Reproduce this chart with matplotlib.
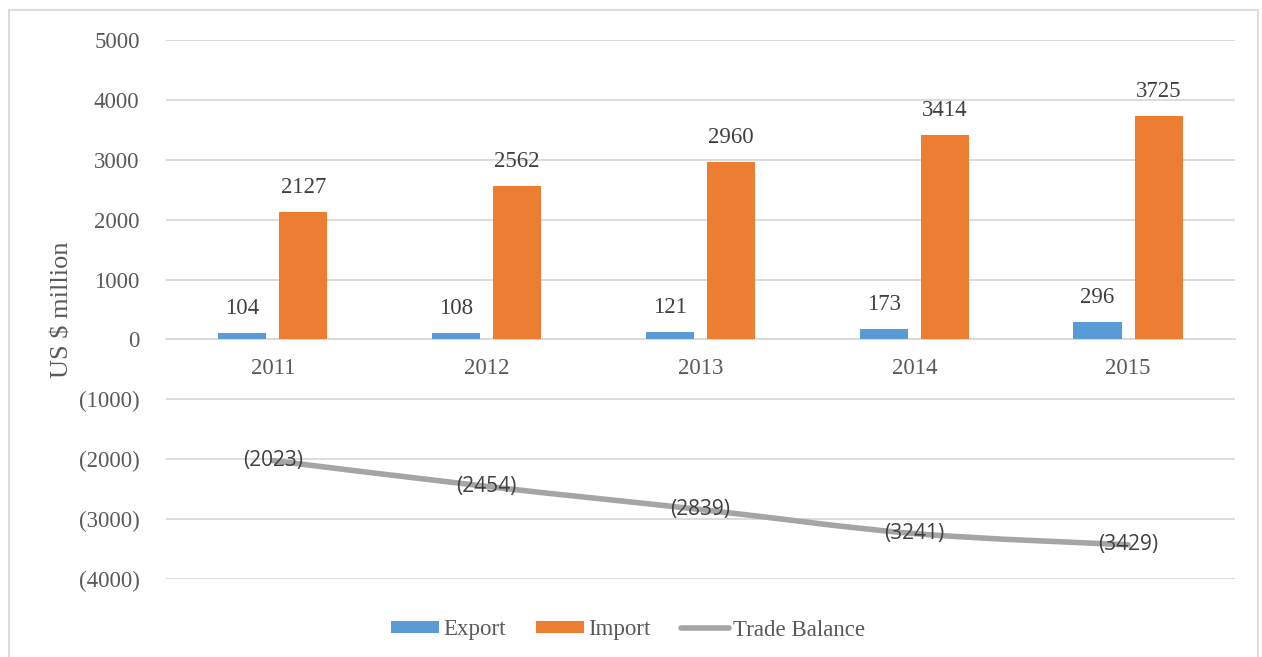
import numpy as np
import matplotlib.pyplot as plt
from matplotlib.path import Path
from matplotlib.patches import PathPatch, Rectangle
from matplotlib.lines import Line2D

# données (US $ million)
years = ["2011", "2012", "2013", "2014", "2015"]
export = [104, 108, 121, 173, 296]
imports = [2127, 2562, 2960, 3414, 3725]
balance = [-2023, -2454, -2839, -3241, -3429]

c_exp = "#5B9BD5"
c_imp = "#ED7D31"
c_bal = "#A5A5A5"
txt = "#595959"
serif = "Liberation Serif"


def fmt(v):
    return f"({abs(int(v))})" if v < 0 else f"{int(v)}"


fig = plt.figure(figsize=(12.62, 6.57), dpi=100)
ax = fig.add_axes([0.1315, 0.1187, 0.8471, 0.8204])

# cadre extérieur
fig.patches.append(Rectangle((9 / 1262, -0.05), 1249 / 1262, 1.05 - 10 / 657,
                             transform=fig.transFigure, fill=False,
                             edgecolor="#D9D9D9", lw=1.3))

x = np.arange(len(years))
w = 0.225
b1 = ax.bar(x - 0.143, export, w, color=c_exp, label="Export", zorder=3)
b2 = ax.bar(x + 0.143, imports, w, color=c_imp, label="Import", zorder=3)
for bars in (b1, b2):
    ax.bar_label(bars, labels=[fmt(v) for v in bars.datavalues], padding=10,
                 fontsize=16.5, family=serif, color="#404040")

# courbe lissée (style Excel)
pts = np.column_stack([x, balance]).astype(float)
ext = np.vstack([pts[0], pts, pts[-1]])
verts = [tuple(pts[0])]
codes = [Path.MOVETO]
for i in range(len(pts) - 1):
    p0, p1, p2, p3 = ext[i], ext[i + 1], ext[i + 2], ext[i + 3]
    verts += [tuple(p1 + (p2 - p0) / 6), tuple(p2 - (p3 - p1) / 6), tuple(p2)]
    codes += [Path.CURVE4] * 3
ax.add_patch(PathPatch(Path(verts, codes), fill=False, edgecolor=c_bal,
                       lw=4, capstyle="round", zorder=4))
for xi, v in zip(x, balance):
    ax.text(xi, v, fmt(v), ha="center", va="center", fontsize=15,
            family="Open Sans", color="#404040", zorder=5)

ax.set_xlim(-0.5, 4.5)
ax.set_ylim(-4000, 5000)
ax.set_yticks(range(-4000, 5001, 1000))
ax.set_yticklabels([fmt(v) for v in range(-4000, 5001, 1000)])
ax.grid(axis="y", color="#D9D9D9", lw=1.3, zorder=0)
ax.set_axisbelow(True)

for s in ["top", "right", "left"]:
    ax.spines[s].set_visible(False)
ax.spines["bottom"].set_position(("data", 0))
ax.spines["bottom"].set_color("#D9D9D9")
ax.spines["bottom"].set_linewidth(1.3)
ax.set_xticks(x)
ax.set_xticklabels(years)
ax.tick_params(axis="x", length=0, pad=13)
ax.tick_params(axis="y", length=0, pad=19)
for lab in ax.get_xticklabels() + ax.get_yticklabels():
    lab.set_family(serif)
    lab.set_fontsize(16.5)
    lab.set_color(txt)

ax.set_ylabel("US $ million", family=serif, fontsize=19, color=txt, labelpad=4)

handles = [b1, b2, Line2D([], [], color=c_bal, lw=4, solid_capstyle="round")]
fig.legend(handles, ["Export", "Import", "Trade Balance"], loc="center",
           bbox_to_anchor=(0.4977, 1 - 630 / 657), ncol=3, frameon=False,
           prop={"family": serif, "size": 16.5}, labelcolor=txt,
           handlelength=2.1, handleheight=0.45, handletextpad=0.2,
           columnspacing=1.3)

fig.savefig("out.png", dpi=100)
